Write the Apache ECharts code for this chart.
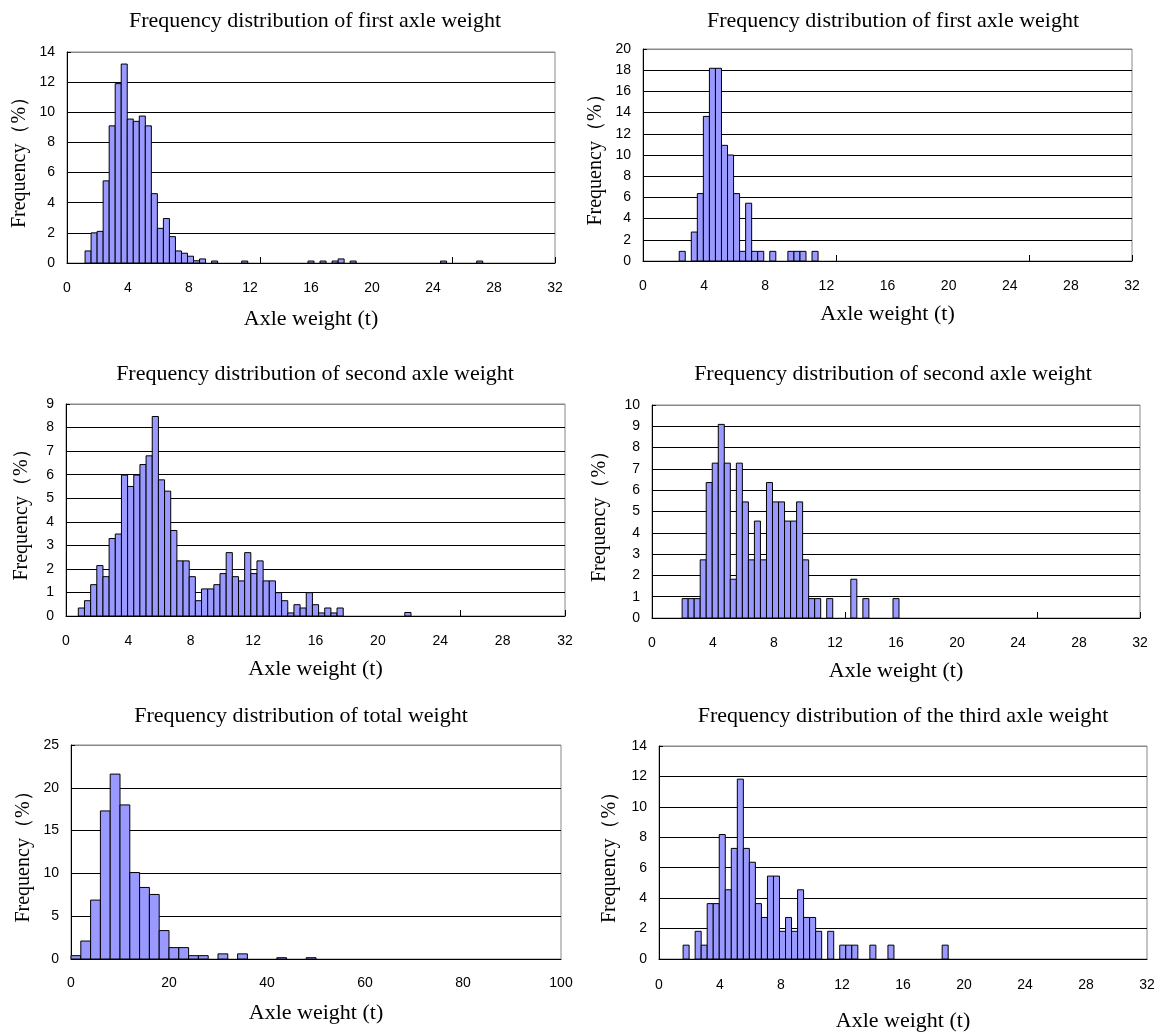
<!DOCTYPE html>
<html>
<head>
<meta charset="utf-8">
<script src="https://cdn.jsdelivr.net/npm/echarts@6/dist/echarts.min.js"></script>
<style>
html, body { margin: 0; padding: 0; background: #fff; }
#main { width: 1160px; height: 1034px; }
</style>
</head>
<body>
<div id="main"></div>
<script>
// width of one class (t): axle panels use 81 classes over 0-32 t, total weight uses 2 t classes
var AXLE_CLASSES = 81;
var AXLE_BIN = 32 / AXLE_CLASSES;
var TOTAL_BIN = 2;

var titleTexts = [
    "Frequency distribution of first axle weight",
    "Frequency distribution of first axle weight",
    "Frequency distribution of second axle weight",
    "Frequency distribution of second axle weight",
    "Frequency distribution of total weight",
    "Frequency distribution of the third axle weight"
];
var xAxisName = "Axle weight (t)";
var yAxisName = "Frequency（%）";

// frequency (%) per class, index 0 = first class starting at 0 t
var firstAxleLeft = [0, 0, 0, 0.8, 2.0, 2.1, 5.45, 9.1, 11.9, 13.2,
    9.55, 9.4, 9.75, 9.1, 4.6, 2.3, 2.95, 1.75, 0.8, 0.65,
    0.45, 0.15, 0.27, 0, 0.13, 0, 0, 0, 0, 0.13,
    0, 0, 0, 0, 0, 0, 0, 0, 0, 0,
    0.13, 0, 0.13, 0, 0.13, 0.27, 0, 0.13, 0, 0,
    0, 0, 0, 0, 0, 0, 0, 0, 0, 0,
    0, 0, 0.13, 0, 0, 0, 0, 0, 0.13];

var firstAxleRight = [0, 0, 0, 0, 0, 0, 0.91, 0, 2.73, 6.36,
    13.64, 18.18, 18.18, 10.91, 10.0, 6.36, 0.91, 5.45, 0.91, 0.91,
    0, 0.91, 0, 0, 0.91, 0.91, 0.91, 0, 0.91];

var secondAxleLeft = [0, 0, 0.34, 0.65, 1.33, 2.14, 1.67, 3.29, 3.48, 5.98,
    5.5, 5.98, 6.43, 6.8, 8.47, 5.78, 5.3, 3.63, 2.34, 2.34,
    1.67, 0.65, 1.15, 1.15, 1.33, 1.8, 2.69, 1.67, 1.49, 2.69,
    1.8, 2.34, 1.49, 1.49, 0.99, 0.65, 0.13, 0.48, 0.34, 0.99,
    0.48, 0.13, 0.34, 0.13, 0.34, 0, 0, 0, 0, 0,
    0, 0, 0, 0, 0, 0.15];

var secondAxleRight = [0, 0, 0, 0, 0, 0.91, 0.91, 0.91, 2.73, 6.36,
    7.27, 9.09, 7.27, 1.82, 7.27, 5.45, 2.73, 4.55, 2.73, 6.36,
    5.45, 5.45, 4.55, 4.55, 5.45, 2.73, 0.91, 0.91, 0, 0.91,
    0, 0, 0, 1.82, 0, 0.91, 0, 0, 0, 0,
    0.91];

var totalWeight = [0.39, 2.1, 6.88, 17.3, 21.6, 18.0, 10.1, 8.36, 7.54, 3.32,
    1.33, 1.33, 0.39, 0.39, 0, 0.6, 0, 0.6, 0, 0,
    0, 0.15, 0, 0, 0.15];

var thirdAxle = [0, 0, 0, 0, 0.91, 0, 1.82, 0.91, 3.64, 3.64,
    8.18, 4.55, 7.27, 11.82, 7.27, 6.36, 3.64, 2.73, 5.45, 5.45,
    1.82, 2.73, 1.82, 4.55, 2.73, 2.73, 1.82, 0, 1.82, 0,
    0.91, 0.91, 0.91, 0, 0, 0.91, 0, 0, 0.91, 0,
    0, 0, 0, 0, 0, 0, 0, 0.91];

// layout of the six panels: plot box [left, top, width, height] and text offsets
var panels = [
    { freq: firstAxleLeft, bin: AXLE_BIN, xMax: 32, xStep: 4, yMax: 14, yStep: 2, classTicks: true,
      box: [67, 52, 488, 211], titleX: 310, titleTop: 5, labelMargin: 18, xGap: 45, yGap: 37 },
    { freq: firstAxleRight, bin: AXLE_BIN, xMax: 32, xStep: 4, yMax: 20, yStep: 2, classTicks: true,
      box: [643, 49, 489, 212], titleX: 888, titleTop: 5, labelMargin: 18, xGap: 42, yGap: 37 },
    { freq: secondAxleLeft, bin: AXLE_BIN, xMax: 32, xStep: 4, yMax: 9, yStep: 1, classTicks: true,
      box: [66, 404, 499, 212], titleX: 310, titleTop: 358, labelMargin: 18, xGap: 42, yGap: 34 },
    { freq: secondAxleRight, bin: AXLE_BIN, xMax: 32, xStep: 4, yMax: 10, yStep: 1, classTicks: true,
      box: [652, 405, 488, 213], titleX: 888, titleTop: 358, labelMargin: 18, xGap: 42, yGap: 42 },
    { freq: totalWeight, bin: TOTAL_BIN, xMax: 100, xStep: 20, yMax: 25, yStep: 5, classTicks: false,
      box: [71, 745, 490, 214], titleX: 296, titleTop: 700, labelMargin: 17, xGap: 43, yGap: 37 },
    { freq: thirdAxle, bin: AXLE_BIN, xMax: 32, xStep: 4, yMax: 14, yStep: 2, classTicks: false,
      box: [659, 746, 488, 213], titleX: 898, titleTop: 700, labelMargin: 19, xGap: 51, yGap: 39 }
];

var serif = "Liberation Serif";
var sans = "Liberation Sans";

function histItem(bin) {
    return function (params, api) {
        var v = api.value(1);
        if (!v) {
            return null;
        }
        var i = api.value(0);
        var a = api.coord([i * bin, v]);
        var b = api.coord([(i + 1) * bin, 0]);
        return {
            type: "rect",
            shape: { x: a[0], y: a[1], width: b[0] - a[0], height: b[1] - a[1] },
            style: { fill: "#9999ff", stroke: "#000", lineWidth: 1 }
        };
    };
}

var classNames = [];
for (var c = 0; c < AXLE_CLASSES; c++) {
    classNames.push(String(c));
}

var option = {
    animation: false,
    backgroundColor: "#fff",
    title: [],
    grid: [],
    xAxis: [],
    yAxis: [],
    series: []
};

for (var k = 0; k < panels.length; k++) {
    var p = panels[k];
    var nLines = p.yMax / p.yStep + 1;
    var lineColors = [];
    for (var j = 0; j < nLines; j++) {
        lineColors.push(j == nLines - 1 ? "#888" : "#000");
    }
    option.title.push({
        text: titleTexts[k],
        left: p.titleX,
        top: p.titleTop,
        textAlign: "center",
        textStyle: { fontFamily: serif, fontSize: 22, fontWeight: "normal", color: "#000" }
    });
    option.grid.push({
        left: p.box[0], top: p.box[1], width: p.box[2], height: p.box[3],
        show: true, borderColor: "#888", borderWidth: 1, backgroundColor: "#fff"
    });
    option.xAxis.push({
        gridIndex: k,
        type: "value",
        min: 0, max: p.xMax, interval: p.xStep,
        name: xAxisName,
        nameLocation: "middle",
        nameGap: p.xGap,
        nameTextStyle: { fontFamily: serif, fontSize: 22, color: "#000" },
        axisLine: { lineStyle: { color: "#000", width: 1 } },
        axisTick: { show: false },
        axisLabel: { margin: p.labelMargin, fontFamily: sans, fontSize: 14, color: "#000" },
        splitLine: { show: false }
    });
    option.yAxis.push({
        gridIndex: k,
        type: "value",
        min: 0, max: p.yMax, interval: p.yStep,
        name: yAxisName,
        nameLocation: "middle",
        nameGap: p.yGap,
        nameTextStyle: { fontFamily: serif, fontSize: 20, color: "#000" },
        axisLine: { show: true, lineStyle: { color: "#000", width: 1 } },
        axisTick: { show: true, inside: true, length: 4, lineStyle: { color: "#000" } },
        axisLabel: { margin: 12, fontFamily: sans, fontSize: 14, color: "#000" },
        splitLine: { show: true, lineStyle: { color: lineColors, width: 1 } }
    });
    option.series.push({
        type: "custom",
        xAxisIndex: k,
        yAxisIndex: k,
        renderItem: histItem(p.bin),
        encode: { x: 0, y: 1 },
        data: p.freq.map(function (v, i) { return [i, v]; })
    });
}

// the class axis behind the axle panels leaves a short tick every 32 classes
for (var m = 0; m < panels.length; m++) {
    if (!panels[m].classTicks) {
        continue;
    }
    option.xAxis.push({
        gridIndex: m,
        type: "category",
        data: classNames,
        position: "bottom",
        axisLine: { show: false },
        axisLabel: { show: false },
        axisTick: { show: true, inside: true, interval: 31, length: 6, lineStyle: { color: "#000" } },
        splitLine: { show: false }
    });
}

var chart = echarts.init(document.getElementById("main"), null, { renderer: "canvas" });
chart.setOption(option);
</script>
</body>
</html>
